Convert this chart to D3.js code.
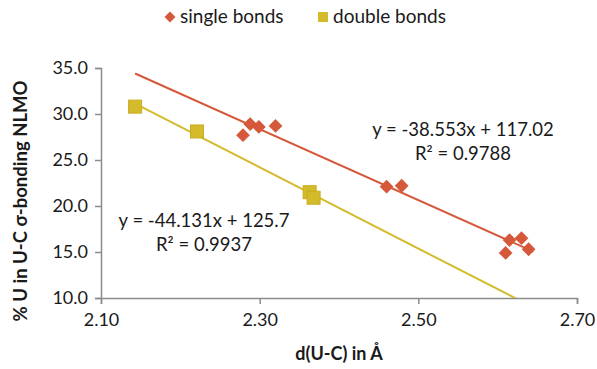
<!DOCTYPE html>
<html lang="en">
  <head>
    <meta charset="UTF-8" />
    <title>U-C bonding</title>
    <script src="https://d3js.org/d3.v7.min.js"></script>
    <style>
      body { margin: 0; background: #fff; }
      text { font-family: Lato, "Open Sans", sans-serif; fill: #1a1a1a; }
    </style>
  </head>
  <body>
    <div id="chart"></div>
    <script>
      // single bonds (diamonds)
      const singleX = [2.279, 2.288, 2.299, 2.320, 2.460, 2.479, 2.610, 2.615, 2.630, 2.639];
      const singleY = [27.7, 28.9, 28.6, 28.7, 22.1, 22.2, 14.9, 16.3, 16.5, 15.3];
      // double bonds (squares)
      const doubleX = [2.143, 2.221, 2.363, 2.368];
      const doubleY = [30.8, 28.1, 21.5, 20.9];
      // trendlines
      const singleFit = { m: -38.553, b: 117.02, r2: "0.9788", x0: 2.143, x1: 2.645 };
      const doubleFit = { m: -44.131, b: 125.7, r2: "0.9937", x0: 2.143, x1: 2.70 };
      const xTicks = [2.1, 2.3, 2.5, 2.7];
      const yTicks = [10, 15, 20, 25, 30, 35];

      const width = 597, height = 369;
      const orange = "#d5583a", yellow = "#d3bb2b";

      const svg = d3.select("#chart").append("svg")
        .attr("width", width).attr("height", height);

      const x = d3.scaleLinear().domain([2.1, 2.7]).range([101, 577]);
      const y = d3.scaleLinear().domain([10, 35]).range([298, 68]);

      // axes
      const xAxis = svg.append("g").attr("transform", "translate(0,298)")
        .call(d3.axisBottom(x).tickValues(xTicks).tickFormat(d3.format(".2f")).tickSize(6).tickPadding(9));
      const yAxis = svg.append("g").attr("transform", "translate(101,0)")
        .call(d3.axisLeft(y).tickValues(yTicks).tickFormat(d3.format(".1f")).tickSize(6).tickPadding(7));
      [xAxis, yAxis].forEach(a => {
        a.selectAll("path, line").attr("stroke", "#8c8c8c").attr("stroke-width", 1.5);
        a.selectAll("text").style("font-size", "18px").style("fill", "#1a1a1a").style("font-family", "Lato");
      });

      const plot = svg.append("g");
      svg.append("clipPath").attr("id", "clip").append("rect")
        .attr("x", 101).attr("y", 60).attr("width", 476).attr("height", 238);

      // trendlines
      const line = d3.line().x(d => x(d[0])).y(d => y(d[1]));
      [[singleFit, orange], [doubleFit, yellow]].forEach(([f, c]) => {
        plot.append("path")
          .attr("d", line([[f.x0, f.m * f.x0 + f.b], [f.x1, f.m * f.x1 + f.b]]))
          .attr("stroke", c).attr("stroke-width", 2).attr("fill", "none")
          .attr("clip-path", "url(#clip)");
      });

      // markers
      const diamond = d3.symbol().type(d3.symbolSquare).size(95);
      plot.selectAll(".single").data(singleX.map((v, i) => [v, singleY[i]]))
        .enter().append("path")
        .attr("d", diamond)
        .attr("transform", d => `translate(${x(d[0])},${y(d[1])}) rotate(45)`)
        .attr("fill", orange);

      plot.selectAll(".double").data(doubleX.map((v, i) => [v, doubleY[i]]))
        .enter().append("rect")
        .attr("x", d => x(d[0]) - 6.5).attr("y", d => y(d[1]) - 6.5)
        .attr("width", 13).attr("height", 13)
        .attr("fill", yellow).attr("stroke", "#c9ad1f").attr("stroke-width", 1);

      // equations
      const eq = (f, cx, cy) => {
        const sign = f.b >= 0 ? "+" : "-";
        svg.append("text").attr("x", cx).attr("y", cy).attr("text-anchor", "middle")
          .style("font-size", "18.5px")
          .text(`y = ${f.m}x ${sign} ${Math.abs(f.b)}`);
        svg.append("text").attr("x", cx).attr("y", cy + 24).attr("text-anchor", "middle")
          .style("font-size", "18.5px")
          .text(`R² = ${f.r2}`);
      };
      eq(singleFit, 463, 136);
      eq(doubleFit, 204, 227);

      // legend
      const leg = svg.append("g");
      leg.append("path").attr("d", d3.symbol().type(d3.symbolSquare).size(60))
        .attr("transform", "translate(170,17) rotate(45)").attr("fill", orange);
      leg.append("text").attr("x", 180).attr("y", 23).style("font-size", "19px").text("single bonds");
      leg.append("rect").attr("x", 318).attr("y", 12).attr("width", 10).attr("height", 10).attr("fill", yellow);
      leg.append("text").attr("x", 333).attr("y", 23).style("font-size", "19px").text("double bonds");

      // axis titles
      svg.append("text").attr("x", 339).attr("y", 360).attr("text-anchor", "middle")
        .style("font-size", "18px").style("font-weight", "bold").text("d(U-C) in Å");
      svg.append("text").attr("transform", "translate(27,201) rotate(-90)")
        .attr("text-anchor", "middle")
        .style("font-size", "18.5px").style("font-weight", "bold").text("% U in U-C σ-bonding NLMO");
    </script>
  </body>
</html>
